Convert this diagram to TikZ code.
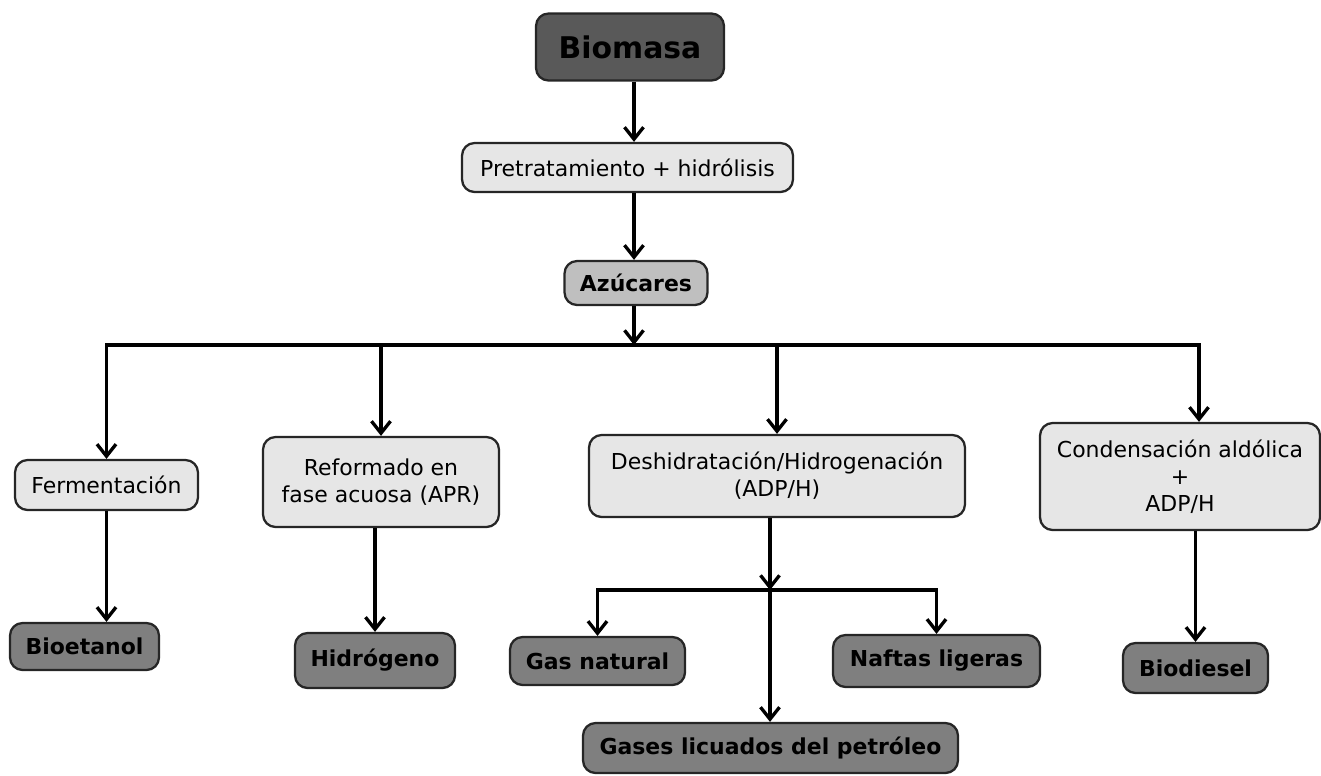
\documentclass[tikz,border=0pt]{standalone}
\usepackage{fontspec}
\setmainfont{DejaVu Sans}
\usepackage{xcolor}
\usetikzlibrary{arrows.meta}

\definecolor{fondo1}{HTML}{E6E6E6}
\definecolor{fondo2}{HTML}{BFBFBF}
\definecolor{fondo3}{HTML}{7F7F7F}
\definecolor{fondo4}{HTML}{595959}

\begin{document}
\begin{tikzpicture}[x=0.02cm,y=-0.02cm,
    box/.style={draw=black!85, line width=1.3pt, rounded corners=0.25cm, align=center,
      inner sep=0pt, font=\fontsize{12.5}{15.5}\selectfont},
    proc/.style={box, fill=fondo1},
    prod/.style={box, fill=fondo3, font=\fontsize{12.5}{15.5}\selectfont\bfseries},
    arr/.style={line width=1.9pt, -{Straight Barb[length=2.4mm,width=3.8mm,line width=1.9pt]}}]
    \useasboundingbox (0,0) rectangle (1321,775);

    \node [box, fill=fondo4, minimum width=3.76cm, minimum height=1.34cm,
      font=\fontsize{17}{20}\selectfont\bfseries] (biomasa) at (630,47) {Biomasa};
    \node [proc, minimum width=6.62cm, minimum height=0.98cm] (pretrat) at (627.5,167.5) {Pretratamiento + hidrólisis};
    \node [box, fill=fondo2, font=\fontsize{12.5}{15.5}\selectfont\bfseries,
      minimum width=2.86cm, minimum height=0.88cm] (azucares) at (636,283) {Azúcares};

    % procesos
    \node [proc, minimum width=3.66cm, minimum height=1.0cm] (ferm) at (106.5,485) {Fermentación};
    \node [proc, minimum width=4.72cm, minimum height=1.8cm] (reform) at (381,482) {Reformado en\\fase acuosa (APR)};
    \node [proc, minimum width=7.52cm, minimum height=1.64cm] (deshid) at (777,476) {Deshidratación/Hidrogenación\\(ADP/H)};
    \node [proc, minimum width=5.6cm, minimum height=2.14cm] (conden) at (1180,476.5) {Condensación aldólica\\+\\ADP/H};

    % productos
    \node [prod, minimum width=2.98cm, minimum height=0.94cm] (bioetanol) at (84.5,646.5) {Bioetanol};
    \node [prod, minimum width=3.2cm, minimum height=1.1cm] (hidrogeno) at (375,660.5) {Hidrógeno};
    \node [prod, minimum width=3.5cm, minimum height=0.96cm] (gasnat) at (597.5,661) {Gas natural};
    \node [prod, minimum width=4.14cm, minimum height=1.04cm] (naftas) at (936.5,661) {Naftas ligeras};
    \node [prod, minimum width=7.5cm, minimum height=1.0cm] (glp) at (770.5,748) {Gases licuados del petróleo};
    \node [prod, minimum width=2.9cm, minimum height=1.0cm] (biodiesel) at (1195.5,668) {Biodiesel};

    \coordinate (bus) at (634,345);
    \coordinate (split) at (770,590);

    \draw [arr] (biomasa.south -| bus) -- (pretrat.north -| bus);
    \draw [arr] (pretrat.south -| bus) -- (azucares.north -| bus);
    \draw [arr] (azucares.south -| bus) -- (bus);
    \draw [arr] (bus) -| (ferm);
    \draw [arr] (bus) -| (reform);
    \draw [arr] (bus) -| (deshid);
    \draw [arr] (bus) -| ([xshift=0.38cm]conden.north);

    \draw [arr] (ferm) -- (ferm |- bioetanol.north);
    \draw [arr] (reform.south -| hidrogeno) -- (hidrogeno);
    \draw [arr] (conden.south -| biodiesel) -- (biodiesel);

    \draw [arr] (deshid.south -| split) -- (split);
    \draw [arr] (split) -| (gasnat);
    \draw [arr] (split) -| (naftas);
    \draw [arr] (split) -- (glp.north -| split);
\end{tikzpicture}
\end{document}
